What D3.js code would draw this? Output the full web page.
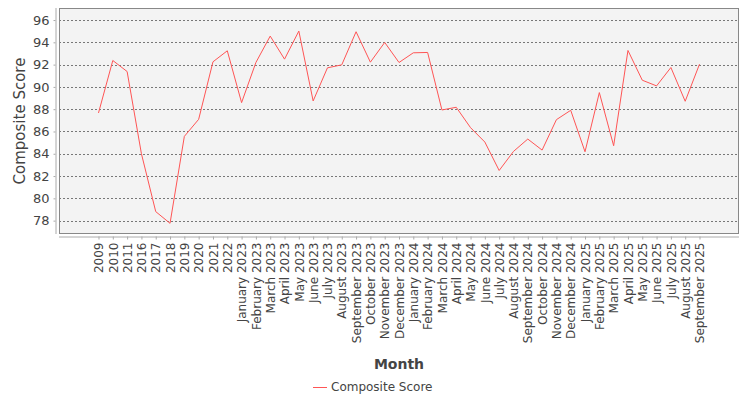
<!DOCTYPE html>
<html>
<head>
<meta charset="utf-8">
<script src="https://cdn.jsdelivr.net/npm/d3@7"></script>
<style>
  body { margin: 0; background: #fff; }
  text { font-family: "DejaVu Sans", sans-serif; }
</style>
</head>
<body>
<svg width="750" height="400"></svg>
<script>
var categories = ["2009", "2010", "2011", "2016", "2017", "2018", "2019", "2020", "2021", "2022",
    "January 2023", "February 2023", "March 2023", "April 2023", "May 2023", "June 2023",
    "July 2023", "August 2023", "September 2023", "October 2023", "November 2023", "December 2023",
    "January 2024", "February 2024", "March 2024", "April 2024", "May 2024", "June 2024",
    "July 2024", "August 2024", "September 2024", "October 2024", "November 2024", "December 2024",
    "January 2025", "February 2025", "March 2025", "April 2025", "May 2025", "June 2025",
    "July 2025", "August 2025", "September 2025"];

var scores = [87.66, 92.37, 91.38, 84.0, 78.81, 77.76, 85.56, 87.09, 92.25, 93.24,
    88.59, 92.19, 94.56, 92.49, 95.01, 88.74,
    91.71, 91.98, 94.95, 92.22, 93.99, 92.19,
    93.06, 93.09, 87.93, 88.17, 86.34, 85.05,
    82.5, 84.21, 85.32, 84.33, 87.06, 87.9,
    84.18, 89.49, 84.72, 93.27, 90.6, 90.09,
    91.74, 88.71, 92.04];

var yTicks = [78, 80, 82, 84, 86, 88, 90, 92, 94, 96];
var seriesName = "Composite Score";

var svg = d3.select("svg");
var plot = { left: 59, top: 8, right: 739, bottom: 234 };

var x = d3.scalePoint()
    .domain(categories)
    .range([plot.left, plot.right])
    .padding(2.76);

var y = d3.scaleLinear()
    .domain([76.8, 97.08])
    .range([plot.bottom, plot.top]);

// plot background
svg.append("rect")
    .attr("x", plot.left).attr("y", plot.top)
    .attr("width", plot.right - plot.left)
    .attr("height", plot.bottom - plot.top)
    .attr("fill", "#f3f3f3");

// grid
svg.append("g").selectAll("line")
    .data(yTicks).enter().append("line")
    .attr("x1", plot.left).attr("x2", plot.right)
    .attr("y1", function(d) { return Math.round(y(d)) + 0.5; })
    .attr("y2", function(d) { return Math.round(y(d)) + 0.5; })
    .attr("stroke", "#777")
    .attr("stroke-width", 1)
    .attr("stroke-dasharray", "2,2");

// outline
svg.append("rect")
    .attr("x", plot.left + 0.5).attr("y", plot.top + 0.5)
    .attr("width", plot.right - plot.left - 1)
    .attr("height", plot.bottom - plot.top - 1)
    .attr("fill", "none")
    .attr("stroke", "#888");

// y axis
var yAxis = svg.append("g")
    .attr("transform", "translate(" + (plot.left - 3.5) + ",0)")
    .call(d3.axisLeft(y).tickValues(yTicks).tickSize(2).tickPadding(4));
yAxis.select(".domain").attr("stroke", "#aaa")
    .attr("d", "M0.5," + plot.top + "V" + plot.bottom);
yAxis.selectAll(".tick line").attr("stroke", "#aaa");
yAxis.selectAll(".tick text")
    .attr("fill", "#444")
    .style("font-size", "13px");

// x axis
var xAxis = svg.append("g")
    .attr("transform", "translate(0," + (plot.bottom + 2.5) + ")")
    .call(d3.axisBottom(x).tickSize(3).tickPadding(4));
xAxis.select(".domain").attr("stroke", "#aaa")
    .attr("d", "M" + plot.left + ",0.5H" + plot.right);
xAxis.selectAll(".tick line").attr("stroke", "#aaa");
xAxis.selectAll(".tick text")
    .attr("fill", "#444")
    .style("font-size", "12px")
    .attr("text-anchor", "end")
    .attr("transform", "rotate(-90)")
    .attr("x", -6)
    .attr("y", 0)
    .attr("dy", "0.35em");

// line
var line = d3.line()
    .x(function(d, i) { return x(categories[i]); })
    .y(function(d) { return y(d); });

svg.append("path")
    .datum(scores)
    .attr("d", line)
    .attr("fill", "none")
    .attr("stroke", "#ff5555")
    .attr("stroke-width", 1);

// axis titles
svg.append("text")
    .attr("transform", "translate(25," + ((plot.top + plot.bottom) / 2) + ") rotate(-90)")
    .attr("text-anchor", "middle")
    .attr("fill", "#444")
    .style("font-size", "15px")
    .text("Composite Score");

svg.append("text")
    .attr("x", (plot.left + plot.right) / 2)
    .attr("y", 369)
    .attr("text-anchor", "middle")
    .attr("fill", "#444")
    .style("font-size", "14px")
    .style("font-weight", "bold")
    .text("Month");

// legend
var legend = svg.append("g").attr("transform", "translate(313,387)");
legend.append("line")
    .attr("x1", 0).attr("x2", 14)
    .attr("y1", 0.5).attr("y2", 0.5)
    .attr("stroke", "#ff5555");
legend.append("text")
    .attr("x", 18).attr("y", 0)
    .attr("dy", "0.35em")
    .attr("fill", "#444")
    .style("font-size", "12px")
    .text(seriesName);
</script>
</body>
</html>
